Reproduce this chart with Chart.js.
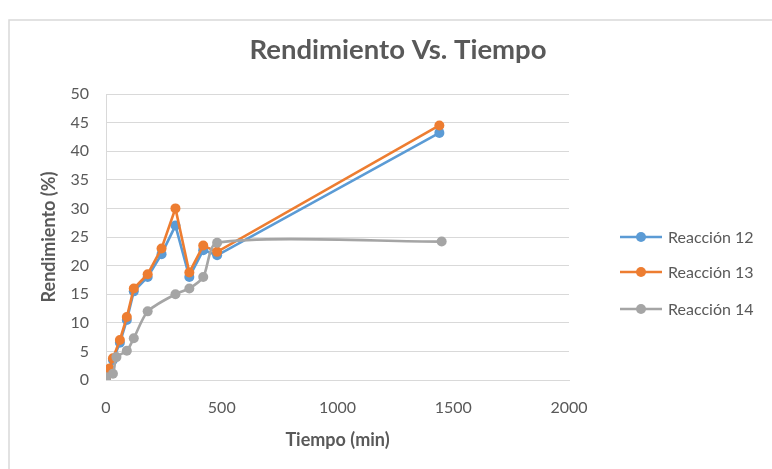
<!DOCTYPE html>
<html>
<head>
<meta charset="utf-8">
<script src="https://cdn.jsdelivr.net/npm/chart.js@4/dist/chart.umd.min.js"></script>
<style>
  html, body { margin: 0; padding: 0; background: #ffffff; }
  #wrap { position: relative; width: 772px; height: 469px; }
</style>
</head>
<body>
<div id="wrap"><canvas id="c" width="772" height="469"></canvas></div>
<script>
// ---- data ----
const seriesNames = ['Reacción 12', 'Reacción 13', 'Reacción 14'];
const timesR12 = [0, 15, 30, 60, 90, 120, 180, 240, 300, 360, 420, 480, 1440];
const valuesR12 = [0, 1.5, 3.5, 6.5, 10.5, 15.5, 18, 22, 27, 18, 22.7, 21.8, 43.2];
const timesR13 = [0, 15, 30, 60, 90, 120, 180, 240, 300, 360, 420, 480, 1440];
const valuesR13 = [0.5, 2, 3.8, 7, 11, 16, 18.5, 23, 30, 18.8, 23.5, 22.4, 44.5];
const timesR14 = [0, 30, 45, 90, 120, 180, 300, 360, 420, 480, 1450];
const valuesR14 = [0.5, 1.1, 4, 5.1, 7.3, 12, 15, 16, 18, 24, 24.2];
const xTicks = [0, 500, 1000, 1500, 2000];
const yTicks = [0, 5, 10, 15, 20, 25, 30, 35, 40, 45, 50];
const titleText = 'Rendimiento Vs. Tiempo';
const xTitle = 'Tiempo (min)';
const yTitle = 'Rendimiento (%)';

const colors = ['#5B9BD5', '#ED7D31', '#A5A5A5'];
const textColor = '#595959';
const gridColor = '#D9D9D9';
const FONT = 'Lato, "Open Sans", sans-serif';

function pts(ts, vs) { return ts.map((t, i) => ({ x: t, y: vs[i] })); }

const datasets = [
  { label: seriesNames[0], data: pts(timesR12, valuesR12), order: 2, tension: 0 },
  { label: seriesNames[1], data: pts(timesR13, valuesR13), order: 1, tension: 0 },
  { label: seriesNames[2], data: pts(timesR14, valuesR14), order: 0, tension: 0.25 }
].map((d, i) => Object.assign(d, {
  borderColor: colors[i],
  backgroundColor: colors[i],
  pointBackgroundColor: colors[i],
  pointBorderColor: colors[i],
  borderWidth: 2.6,
  pointRadius: 5,
  pointBorderWidth: 0,
  showLine: true,
  fill: false
}));

const frame = {
  id: 'frame',
  beforeDraw(chart) {
    const ctx = chart.ctx;
    ctx.save();
    ctx.fillStyle = '#fff';
    ctx.fillRect(0, 0, chart.width, chart.height);
    ctx.strokeStyle = '#D9D9D9';
    ctx.lineWidth = 1.5;
    ctx.strokeRect(9, 20, 900, 600);
    // chart title
    ctx.fillStyle = textColor;
    ctx.font = 'bold 27.5px ' + FONT;
    ctx.textAlign = 'center';
    ctx.textBaseline = 'middle';
    ctx.fillText(titleText, 398, 50);
    ctx.restore();
  },
  afterDraw(chart) {
    const ctx = chart.ctx;
    ctx.save();
    const ys = [237, 272, 309];
    chart.data.datasets.forEach((ds, i) => {
      const y = ys[i];
      ctx.strokeStyle = colors[i];
      ctx.lineWidth = 2.6;
      ctx.beginPath();
      ctx.moveTo(620, y);
      ctx.lineTo(662, y);
      ctx.stroke();
      ctx.fillStyle = colors[i];
      ctx.beginPath();
      ctx.arc(641, y, 5, 0, Math.PI * 2);
      ctx.fill();
      ctx.fillStyle = textColor;
      ctx.font = '16px ' + FONT;
      ctx.textBaseline = 'middle';
      ctx.textAlign = 'left';
      ctx.fillText(ds.label, 668, y + 1);
    });
    ctx.restore();
  }
};

new Chart(document.getElementById('c'), {
  type: 'line',
  data: { datasets },
  plugins: [frame],
  options: {
    responsive: false,
    animation: false,
    devicePixelRatio: 1,
    layout: { padding: { left: 38, right: 203, top: 94, bottom: 18 } },
    plugins: {
      legend: { display: false },
      tooltip: { enabled: false },
      title: { display: false }
    },
    scales: {
      x: {
        type: 'linear',
        min: 0, max: 2000,
        afterBuildTicks(s) { s.ticks = xTicks.map(v => ({ value: v })); },
        afterFit(s) { s.height = 71; },
        grid: { display: false, drawTicks: false },
        border: { display: true, color: gridColor, width: 1 },
        ticks: { color: textColor, font: { family: FONT, size: 16 }, padding: 18, maxRotation: 0,
                 callback: v => String(v) },
        title: { display: true, text: xTitle, color: textColor, font: { family: FONT, size: 18, weight: 'bold' }, padding: 0 }
      },
      y: {
        min: 0, max: 50,
        afterBuildTicks(s) { s.ticks = yTicks.map(v => ({ value: v })); },
        afterFit(s) { s.width = 68; },
        grid: { color: gridColor, drawTicks: false },
        border: { display: true, color: gridColor, width: 1 },
        ticks: { color: textColor, font: { family: FONT, size: 16 }, padding: 17, callback: v => String(v) },
        title: { display: true, text: yTitle, color: textColor, font: { family: FONT, size: 18, weight: 'bold' }, padding: 0 }
      }
    }
  }
});
</script>
</body>
</html>
